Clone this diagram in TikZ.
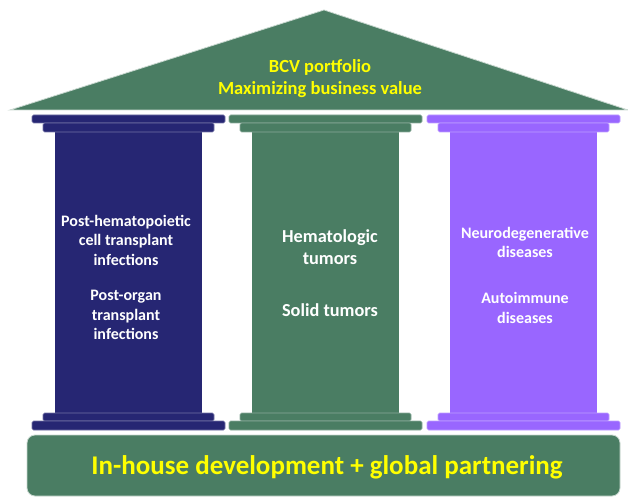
\documentclass[tikz,border=0pt]{standalone}
\usepackage{fontspec}
\setmainfont{Carlito}
\definecolor{bcvnavy}{HTML}{262673}
\definecolor{bcvgreen}{HTML}{4A7D63}
\definecolor{bcvpurple}{HTML}{9966FF}
\definecolor{bcvyellow}{HTML}{FFFF00}

\begin{document}
\begin{tikzpicture}[
    x=1pt, y=-1pt,
    roof/.style={fill=bcvgreen, draw=white!70!bcvgreen, line width=0.8pt},
    slab/.style={fill=#1, draw=white!35!#1, line width=0.6pt, rounded corners=1.5pt},
    pillartext/.style={text=white, align=center, font=\bfseries\fontsize{16}{19.5}\selectfont},
    bigtext/.style={text=bcvyellow, align=center, font=\bfseries\fontsize{18.5}{22}\selectfont},
    base/.style={fill=bcvgreen, draw=white!70!bcvgreen, line width=0.8pt, rounded corners=8pt}
]
    \useasboundingbox (0,0) rectangle (628,497);

    % roof
    \draw[roof] (10,110) -- (324,10) -- (628,110) -- cycle;
    \node[bigtext] (roof) at (320,79) {BCV portfolio\\Maximizing business value};

    % pillars
    \foreach \x/\c in {32/bcvnavy, 229/bcvgreen, 427/bcvpurple} {
        \fill[\c] (\x+23,130) rectangle (\x+170,415);
        \draw[slab=\c] (\x,115) rectangle (\x+193,123);
        \draw[slab=\c] (\x+11,123) rectangle (\x+182,132);
        \draw[slab=\c] (\x+11,413) rectangle (\x+182,421);
        \draw[slab=\c] (\x,421) rectangle (\x+193,430);
    }

    \node[pillartext] (hct) at (126,240) {Post-hematopoietic\\cell transplant\\infections};
    \node[pillartext] (sot) at (126,315) {Post-organ\\transplant\\infections};
    \node[pillartext, font=\bfseries\fontsize{18.3}{22}\selectfont] (hem) at (330,247) {Hematologic\\tumors};
    \node[pillartext, font=\bfseries\fontsize{18.3}{22}\selectfont] (solid) at (330,310) {Solid tumors};
    \node[pillartext] (neuro) at (525,242.5) {Neurodegenerative\\diseases};
    \node[pillartext] (auto) at (525,308) {Autoimmune\\diseases};

    % foundation
    \draw[base] (27,435) rectangle (620,496);
    \node[bigtext, font=\bfseries\fontsize{27}{30}\selectfont] (found) at (327,467) {In-house development + global partnering};
\end{tikzpicture}
\end{document}
